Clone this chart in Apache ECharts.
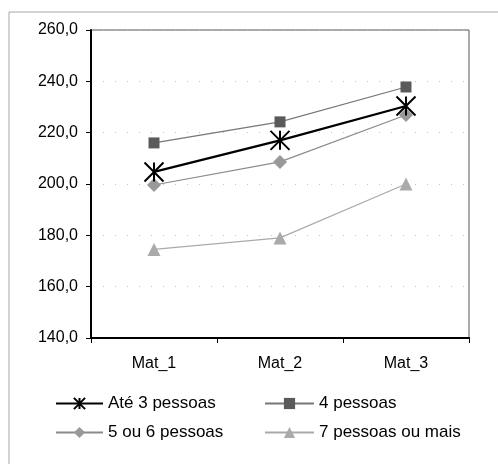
<!DOCTYPE html>
<html><head><meta charset="utf-8">
<script src="https://cdn.jsdelivr.net/npm/echarts@6/dist/echarts.min.js"></script>
<style>html,body{margin:0;padding:0;background:#fff}#c{width:498px;height:464px}</style>
</head><body><div id="c"></div>
<script>
const categories = ['Mat_1', 'Mat_2', 'Mat_3'];
const ate3 = [204.7, 217.0, 230.4];
const p4 = [216.0, 224.2, 237.8];
const p56 = [199.6, 208.6, 226.9];
const p7 = [174.5, 179.0, 200.0];
const yMin = 140, yMax = 260, yStep = 20;

const star = 'path://M0,0L10,10M10,0L0,10M5,0L5,10';
const chart = echarts.init(document.getElementById('c'));
const font = 'Liberation Sans, Arial, sans-serif';
chart.setOption({
  animation: false,
  graphic: [{type: 'rect', shape: {x: 9, y: 12, width: 520, height: 480}, style: {fill: 'none', stroke: '#a8a8a8', lineWidth: 1}}],
  grid: {left: 91, top: 30, right: 29, bottom: 126, show: true, borderColor: '#555', borderWidth: 1},
  legend: [
    {data: ['Até 3 pessoas', '5 ou 6 pessoas'], orient: 'vertical', left: 50, top: 390, itemGap: 12, itemWidth: 47, itemHeight: 14,
     textStyle: {fontFamily: font, fontSize: 17, color: '#000'}},
    {data: ['4 pessoas', '7 pessoas ou mais'], orient: 'vertical', left: 259, top: 390, itemGap: 12, itemWidth: 49, itemHeight: 14,
     textStyle: {fontFamily: font, fontSize: 17, color: '#000'}}
  ],
  xAxis: {type: 'category', data: categories, boundaryGap: true,
    axisLine: {lineStyle: {color: '#000', width: 2}},
    axisTick: {show: true, length: 5, inside: false, lineStyle: {color: '#000'}},
    axisLabel: {fontFamily: font, fontSize: 16, color: '#000', margin: 18}},
  yAxis: {type: 'value', min: yMin, max: yMax, interval: yStep,
    axisLine: {show: true, lineStyle: {color: '#000', width: 2}},
    axisTick: {show: true, length: 5, lineStyle: {color: '#000'}},
    axisLabel: {fontFamily: font, fontSize: 16, color: '#000', margin: 13,
      formatter: v => v.toFixed(1).replace('.', ',')},
    splitLine: {show: true, lineStyle: {color: '#c4c4c4', type: [1, 11], width: 1}}},
  series: [
    {name: 'Até 3 pessoas', type: 'line', data: ate3, symbol: star, symbolSize: 19,
     itemStyle: {color: 'transparent', borderColor: '#000', borderWidth: 2},
     lineStyle: {color: '#000', width: 2.2}, z: 5},
    {name: '4 pessoas', type: 'line', data: p4, symbol: 'rect', symbolSize: 11,
     itemStyle: {color: '#5a5a5a'}, lineStyle: {color: '#777', width: 1.2}},
    {name: '5 ou 6 pessoas', type: 'line', data: p56, symbol: 'diamond', symbolSize: 14,
     itemStyle: {color: '#999'}, lineStyle: {color: '#8a8a8a', width: 1.2}},
    {name: '7 pessoas ou mais', type: 'line', data: p7, symbol: 'triangle', symbolSize: 13,
     itemStyle: {color: '#aaa'}, lineStyle: {color: '#aaa', width: 1.2}}
  ]
});
</script></body></html>
